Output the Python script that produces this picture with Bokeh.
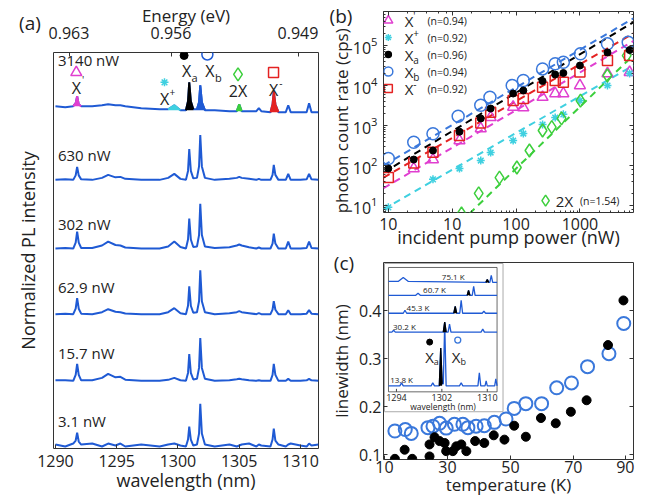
from bokeh.plotting import figure
from bokeh.layouts import row, column
from bokeh.models import (Range1d, LinearAxis, LogAxis, FixedTicker, Div,
                          CustomJSTickFormatter)
from bokeh.core.properties import value
from bokeh.embed import file_html
from bokeh.resources import INLINE

FONT = "Open Sans"
SPEC_BLUE = "#1f5ad4"
MAGENTA = "#e03fd0"
CYAN = "#3fd0e0"
GREEN = "#3ccf3c"
RED = "#e42222"
BLUE_B = "#3a78db"
TXT = "#222222"

# ------------------------------------------------------------------ (a) data
wavelength_a = [1290.0, 1290.8, 1291.45, 1291.65, 1291.77, 1291.9, 1292.1, 1293.0,
                1293.8, 1294.3, 1294.9, 1295.3, 1295.7, 1297.0, 1298.5, 1299.2,
                1299.7, 1300.2, 1300.65, 1300.82, 1300.92, 1301.05, 1301.25, 1301.55,
                1301.72, 1301.82, 1301.95, 1302.2, 1303.0, 1304.2, 1304.8, 1305.0,
                1305.2, 1305.8, 1306.4, 1306.6, 1306.8, 1307.55, 1307.72, 1307.82,
                1307.95, 1308.2, 1308.8, 1309.0, 1309.2, 1310.0, 1310.5, 1310.7,
                1310.9, 1311.47]
power_labels = ["3140 nW", "630 nW", "302 nW", "62.9 nW", "15.7 nW", "3.1 nW"]
trace_offsets = [340, 270, 201, 135, 68, 3]
power_label_y = [390, 295, 226, 162, 96, 28]
spec_3140 = [4, 3, 4, 7, 14, 6, 4, 4, 5, 6, 5, 5, 4, 2, 1, 1, 5, 0, 0, 9, 28, 9, 1, 1, 8, 25, 8, 0, 0,
             -1, -1, 6, -1, -1, -1, 2, -1, -2, 6, 19, 6, -2, -2, 5, -2, -2, -2, 7, -2, -2]
spec_630 = [0, 0.5, 0, 4.5, 13, 4.5, 0.5, 0, 2, 5, 2.5, 3, 1, 0, 0, 2, 6, 1, 0, 9, 31, 9, 1.5, 2,
            13.5, 45, 13.5, 2, 0, 1, 2, 3, 2, 1, 0, 1, 0, 0, 5, 15, 5, 0, 0, 6, 0, 0, 0.5, 6, 0.5, 0]
spec_302 = [0, 0.5, 0, 6, 17, 6, 0.5, 0.5, 3, 7, 3.5, 3, 1, 0, 0, 2, 7, 1.5, 0, 9, 30, 9, 1.5, 2,
            13.5, 45, 13.5, 2, 0.5, 1.2, 3, 4, 3, 1.2, 0, 1, 0, 0, 5, 15, 5, 0, 0, 7, 0, 0, 0.5, 7, 0.5, 0]
spec_62_9 = [0, 0.5, 0, 5.5, 16, 5.5, 0.5, 0, 2, 5, 2.5, 2, 0.6, 0, 0, 2, 6, 1, 0, 8.5, 28, 8.5, 1.4, 2,
             13, 44, 13, 2, 0, 1, 2, 3, 2, 1, 0, 1, 0, 0, 4.5, 13, 4.5, 0, 0, 4, 0, 0, 0.5, 4, 0.5, 0]
spec_15_7 = [0.5, 0.5, 0, 6, 17, 6, 0.5, 0.5, 3, 7, 3.5, 4, 1.2, 0, 0, 1, 3, 0.6, 0, 8, 27, 8, 1.4, 2,
             13, 43, 13, 2, 0, 0.6, 1.5, 2, 1.5, 0.6, 0, 0.5, 0, 0, 6, 17, 6, 0, 0, 2, 0, 0, 0.5, 2, 0.5, 0]
spec_3_1 = [1, -1, 2, 5, 13, 4, 1, 2, -1, 2, 0, 2, -1, 1, -1, 1, 2, 0, -1, 6, 19, 6, 0, 1,
            12, 42, 12, 1, -1, 1, -1, 0, 1, 2, -1, 1, 0, -1, 6, 17, 5, 1, -1, 1, 2, 0, -1, 2, 0, 1]
spectra_a = [spec_3140, spec_630, spec_302, spec_62_9, spec_15_7, spec_3_1]
energy_labels = ["0.963", "0.956", "0.949"]
energy_label_wavelength = [1291.15, 1299.47, 1309.84]   # where the printed energy ticks sit
wavelength_ticks = [1290, 1295, 1300, 1305, 1310]
# coloured peaks of the 3140 nW trace: (first index, last index, colour)
peak_bands = [(2, 6, MAGENTA), (15, 17, CYAN), (18, 22, "black"), (23, 27, SPEC_BLUE),
              (30, 32, GREEN), (37, 41, RED)]

# ------------------------------------------------------------------ (b) data
power_Xb = [1.0, 2.5, 5.0, 12.4, 28, 39, 87, 130, 260, 410, 550, 1020, 2700, 5700]
rate_Xb = [150, 380, 620, 1700, 3200, 5100, 10000, 13300, 26000, 35000, 38000, 62000, 110000, 120000]
power_Xa = [1.0, 2.5, 5.0, 13, 28, 40, 90, 130, 260, 410, 550, 1000, 2700, 6000]
rate_Xa = [84, 141, 237, 700, 1500, 2660, 6300, 7500, 12900, 18800, 20500, 31600, 67000, 77000]
power_Xm = [1.0, 2.5, 5.0, 13, 28, 40, 90, 130, 260, 410, 550, 1000, 2700, 6000]
rate_Xm = [50, 115, 215, 560, 1150, 2150, 4200, 4700, 9100, 13300, 12100, 21600, 42000, 56000]
power_Xp = [2.5, 5.0, 13, 28, 40, 90, 130, 260, 410, 550, 1000, 2700, 6000]
rate_Xp = [84, 141, 420, 840, 1600, 2900, 2800, 5100, 6300, 6300, 10000, 20000, 21500]
power_Xplus = [1.0, 5.0, 13, 28, 40, 90, 130, 260, 410, 550, 1000, 2700, 6000]
rate_Xplus = [9, 45, 84, 133, 211, 420, 630, 1060, 1580, 1900, 4200, 10000, 20000]
power_2X = [14, 26, 55, 103, 162, 260, 362, 515, 1020, 2690, 5400]
rate_2X = [6.3, 20, 50, 89, 237, 750, 910, 1500, 4200, 17800, 56000]
fit_power = [0.84, 6900]
fit_Xb = [100, 480000]
fit_Xa = [67, 384000]
fit_Xm = [50, 200000]
fit_Xp = [27, 130000]
fit_Xplus = [8, 32000]
fit_2X_power = [10, 6900]
fit_2X = [2.4, 57700]
n_values = ["(n=0.94)", "(n=0.92)", "(n=0.96)", "(n=0.94)", "(n=0.92)"]

# ------------------------------------------------------------------ (c) data
temp_Xa = [13.3, 16.4, 18.8, 24.3, 24.3, 25.9, 27.5, 29.1, 29.6, 31.7, 32.8, 34.4, 36.0,
           38.8, 41.7, 44.7, 48.1, 51.2, 54.9, 59.7, 64.4, 69.2, 74.2, 81.0, 85.9]
lw_Xa = [0.091, 0.110, 0.091, 0.096, 0.121, 0.136, 0.128, 0.124, 0.107, 0.107, 0.117, 0.121, 0.107,
         0.128, 0.124, 0.140, 0.131, 0.160, 0.137, 0.176, 0.165, 0.189, 0.213, 0.328, 0.421]
temp_Xb = [13.3, 16.6, 18.5, 23.8, 25.4, 27.5, 29.6, 32.2, 34.9, 36.5, 39.1, 41.7, 44.9,
           48.6, 51.2, 54.9, 59.9, 64.7, 69.4, 74.5, 81.3, 86.0]
lw_Xb = [0.149, 0.152, 0.144, 0.156, 0.159, 0.165, 0.155, 0.163, 0.163, 0.156, 0.159, 0.160, 0.167,
         0.174, 0.196, 0.206, 0.206, 0.239, 0.249, 0.283, 0.310, 0.373]
temp_ticks = [10, 30, 50, 70, 86.5]
lw_ticks = [0.1, 0.2, 0.3, 0.4]

# inset spectra (temperature series)
inset_labels = ["13.8 K", "30.2 K", "45.3 K", "60.7 K", "75.1 K"]
inset_offsets = [74, 128, 147, 165, 178]
inset_label_wl = [1294.9, 1295.4, 1297.8, 1300.7, 1304.0]
inset_wl_13_8 = [1292.6, 1294.6, 1294.9, 1295.2, 1300.1, 1300.4, 1300.7, 1301.55, 1301.8, 1302.05,
                 1302.25, 1302.5, 1302.75, 1305.1, 1305.4, 1305.7, 1308.35, 1308.6, 1308.85,
                 1309.6, 1309.8, 1310.0, 1311.3, 1311.5, 1311.72]
inset_I_13_8 = [0, 0, 3, 0, 0, 3, 0, 0, 38, 2, 2, 63, 0, 0, 3, 0, 0, 13, 0, 0, 5, 0, 0, 7, 0]
inset_wl_30_2 = [1292.6, 1293.2, 1293.5, 1293.8, 1302.25, 1302.5, 1302.75, 1303.1, 1303.35, 1303.6,
                 1308.9, 1309.2, 1309.5, 1311.72]
inset_I_30_2 = [0, 0, 2, 0, 0, 10, 0, 0, 8, 0, 0, 3, 0, 0]
inset_wl_45_3 = [1292.6, 1295.2, 1295.5, 1295.8, 1304.1, 1304.35, 1304.6, 1305.15, 1305.4, 1305.65,
                 1309.1, 1309.4, 1309.7, 1311.72]
inset_I_45_3 = [0, 0, 3, 0, 0, 7, 0, 0, 13, 0, 0, 2, 0, 0]
inset_wl_60_7 = [1292.6, 1297.4, 1297.8, 1298.2, 1306.45, 1306.7, 1306.95, 1307.35, 1307.6, 1307.85, 1311.72]
inset_I_60_7 = [0, 0, 2, 0, 0, 5, 0, 0, 9, 0, 0]
inset_wl_75_1 = [1292.6, 1294.3, 1295.2, 1296.1, 1309.75, 1310.0, 1310.25, 1310.45, 1310.7, 1310.95, 1311.72]
inset_I_75_1 = [1, 1, 5, 1, 0, 3, 0, 0, 7, 0, 0]
inset_wl = [inset_wl_13_8, inset_wl_30_2, inset_wl_45_3, inset_wl_60_7, inset_wl_75_1]
inset_I = [inset_I_13_8, inset_I_30_2, inset_I_45_3, inset_I_60_7, inset_I_75_1]
inset_Xa_index = [8, 5, 5, 5, 5]
inset_ticks = [1294, 1302, 1310]

BLANK = "return '';"
NBSP = "\u00a0"

# geometry of panel (a) frame in page pixels (used to place the html tick texts)
A_LEFT, A_RIGHT = 53, 318
A_X0, A_X1 = 1289.84, 1311.47


def style_axis(ax, tick_size="16px", label_size="18px"):
    ax.major_label_text_font = FONT
    ax.major_label_text_font_size = tick_size
    ax.major_label_text_color = TXT
    ax.axis_label_text_font = FONT
    ax.axis_label_text_font_size = label_size
    ax.axis_label_text_font_style = "normal"
    ax.axis_label_text_color = TXT
    ax.axis_line_color = None
    ax.major_tick_in = 4
    ax.major_tick_out = 0
    ax.minor_tick_in = 2
    ax.minor_tick_out = 0
    ax.major_tick_line_color = "#333333"
    ax.minor_tick_line_color = "#333333"


def blank_axis(ax):
    style_axis(ax)
    ax.formatter = CustomJSTickFormatter(code=BLANK)
    ax.major_label_text_font_size = "1px"
    ax.major_label_standoff = 0


def txt(p, x, y, s, size, color=TXT, align="center", baseline="middle", **kw):
    p.text(x=[x], y=[y], text=[s], text_font=value(FONT), text_font_size=value(size),
           text_color=color, text_align=align, text_baseline=baseline, **kw)


def html_text(s, cx, top, size="19px", width=44, line="22px"):
    return Div(text=s, margin=0, width=width,
               styles={"position": "absolute", "left": f"{cx - width / 2:.1f}px", "top": f"{top}px",
                       "width": f"{width}px", "text-align": "center",
                       "font-family": FONT, "font-size": size, "line-height": line,
                       "color": TXT, "z-index": "10"})


def base_fig(**kw):
    p = figure(output_backend="svg", toolbar_location=None, **kw)
    p.xgrid.visible = False
    p.ygrid.visible = False
    p.outline_line_color = "#333333"
    p.background_fill_color = "white"
    p.border_fill_color = "white"
    return p


# ================================================================== panel (a)
pa = base_fig(width=326, height=498, x_range=Range1d(A_X0, A_X1), y_range=Range1d(0, 398),
              min_border_left=A_LEFT, min_border_right=326 - A_RIGHT, min_border_top=50, min_border_bottom=50)
bottom_a = pa.below[0]
left_a = pa.left[0]
top_axis = LinearAxis(ticker=FixedTicker(ticks=energy_label_wavelength), axis_label="Energy (eV)")
pa.add_layout(top_axis, "above")
blank_axis(top_axis)
top_axis.axis_label_text_font_size = "17px"
top_axis.axis_label_standoff = 26
style_axis(bottom_a)
bottom_a.ticker = FixedTicker(ticks=wavelength_ticks)
bottom_a.axis_label = "wavelength (nm)"
bottom_a.major_label_standoff = 6
bottom_a.axis_label_standoff = -2
style_axis(left_a)
left_a.axis_label = "Normalized PL intensity"
left_a.ticker = FixedTicker(ticks=[])
left_a.formatter = CustomJSTickFormatter(code=BLANK)
left_a.axis_label_standoff = 14

for spec, off in zip(spectra_a, trace_offsets):
    pa.line(wavelength_a, [off + v for v in spec], color=SPEC_BLUE, line_width=2)
off0 = trace_offsets[0]
for i0, i1, col in peak_bands:
    xs = wavelength_a[i0:i1 + 1]
    ys = [off0 + v for v in spec_3140[i0:i1 + 1]]
    base = off0 + min(spec_3140[i0], spec_3140[i1])
    pa.varea(x=xs, y1=[base] * len(xs), y2=ys, fill_color=col)
    pa.line(xs, ys, color=col, line_width=2)

for lab, ly in zip(power_labels, power_label_y):
    txt(pa, 1290.2, ly, lab, "15px", align="left")

# peak identifiers
pa.scatter([1291.7], [378], marker="triangle", size=11, fill_color=None, line_color=MAGENTA, line_width=1.5)
txt(pa, 1291.7, 362, "X", "16px")
txt(pa, 1292.25, 370, "'", "10px")
pa.scatter([1298.9], [368], marker="asterisk", size=8, line_color=CYAN, line_width=1.5)
txt(pa, 1298.9, 351, "X", "16px")
txt(pa, 1299.55, 358, "+", "10px")
pa.scatter([1300.5], [395], marker="circle", size=8, fill_color="black", line_color="black")
txt(pa, 1300.7, 379, "X", "16px")
txt(pa, 1301.35, 373, "a", "11px")
pa.scatter([1302.4], [396], marker="circle", size=11, fill_color=None, line_color=SPEC_BLUE, line_width=1.5)
txt(pa, 1302.6, 379, "X", "16px")
txt(pa, 1303.3, 373, "b", "11px")
pa.scatter([1304.9], [376], marker="diamond", size=13, fill_color=None, line_color=GREEN, line_width=1.5)
txt(pa, 1304.9, 359, "2X", "16px")
pa.scatter([1307.8], [378], marker="square", size=10, fill_color=None, line_color=RED, line_width=1.5)
txt(pa, 1307.8, 360, "X", "16px")
txt(pa, 1308.4, 367, "-", "10px")

# energy tick texts, placed over the wavelength positions of the top ticks
energy_divs = []
for lab, wl in zip(energy_labels, energy_label_wavelength):
    cx = A_LEFT + (wl - A_X0) / (A_X1 - A_X0) * (A_RIGHT - A_LEFT)
    energy_divs.append(html_text(lab, cx, 23, size="16px", width=50, line="20px"))

# ================================================================== panel (b)
pb = base_fig(width=326, height=254, x_axis_type="log", y_axis_type="log",
              x_range=Range1d(0.84, 6900), y_range=Range1d(10 ** 0.825, 10 ** 5.85),
              min_border_left=54, min_border_right=10, min_border_top=11, min_border_bottom=42)
bottom_b = pb.below[0]
left_b = pb.left[0]
style_axis(bottom_b)
bottom_b.formatter = CustomJSTickFormatter(code="return tick < 5 ? '10' : tick.toFixed(0);")
bottom_b.axis_label = "incident pump power (nW)"
bottom_b.major_label_standoff = 5
bottom_b.axis_label_standoff = -8
style_axis(left_b, label_size="17px")
left_b.axis_label = "photon count rate (cps)" + NBSP * 4
left_b.major_label_standoff = 6
left_b.axis_label_standoff = -3
for loc in ("above", "right"):
    ax = LogAxis()
    blank_axis(ax)
    pb.add_layout(ax, loc)

pb.line(fit_power, fit_Xb, color=BLUE_B, line_width=2, line_dash="7 5")
pb.line(fit_power, fit_Xa, color="black", line_width=2, line_dash="7 5")
pb.line(fit_power, fit_Xm, color=RED, line_width=2, line_dash="7 5")
pb.line(fit_power, fit_Xp, color=MAGENTA, line_width=2, line_dash="7 5")
pb.line(fit_power, fit_Xplus, color=CYAN, line_width=2, line_dash="7 5")
pb.line(fit_2X_power, fit_2X, color=GREEN, line_width=2, line_dash="7 5")

pb.scatter(power_Xp, rate_Xp, marker="triangle", size=11, fill_color=None, line_color=MAGENTA, line_width=1.5)
pb.scatter(power_Xplus, rate_Xplus, marker="asterisk", size=8, line_color=CYAN, line_width=1.5)
pb.scatter(power_2X, rate_2X, marker="diamond", size=13, fill_color=None, line_color=GREEN, line_width=1.5)
pb.scatter(power_Xm, rate_Xm, marker="square", size=10, fill_color=None, line_color=RED, line_width=1.5)
pb.scatter(power_Xb, rate_Xb, marker="circle", size=12, fill_color=None, line_color=BLUE_B, line_width=1.5)
pb.scatter(power_Xa, rate_Xa, marker="circle", size=7, fill_color="black", line_color="black")

# legend
leg_y = [10 ** 5.625, 10 ** 5.2, 10 ** 4.775, 10 ** 4.35, 10 ** 3.925]
leg_markers = [("triangle", MAGENTA, None, 9), ("asterisk", CYAN, None, 7), ("circle", "black", "black", 6),
               ("circle", BLUE_B, None, 9), ("square", RED, None, 8)]
leg_mod = [("'", 1.26), ("+", 1.3), ("a", 0.74), ("b", 0.74), ("-", 1.3)]
for yy, (mk, lc, fc, sz), (m, f), nt in zip(leg_y, leg_markers, leg_mod, n_values):
    pb.scatter([1.0], [yy], marker=mk, size=sz, fill_color=fc, line_color=lc, line_width=1.5)
    txt(pb, 1.8, yy, "X", "15px", align="left")
    txt(pb, 2.45, yy * f, m, "10px", align="left")
    txt(pb, 4.1, yy, nt, "10.5px", align="left")
pb.scatter([290], [13.3], marker="diamond", size=11, fill_color=None, line_color=GREEN, line_width=1.5)
txt(pb, 420, 13.3, "2X", "15px", align="left")
txt(pb, 1000, 13.3, "(n=1.54)", "10.5px", align="left")

# ================================================================== panel (c)
pc = base_fig(width=326, height=244, x_range=Range1d(9.68, 89.1), y_range=Range1d(0.0896, 0.5),
              min_border_left=56, min_border_right=19, min_border_top=8, min_border_bottom=38)
bottom_c = pc.below[0]
left_c = pc.left[0]
pc.extra_x_ranges = {"inx": Range1d(1291.72, 1335.75)}
pc.extra_y_ranges = {"iny": Range1d(0, 198)}
style_axis(bottom_c, tick_size="16px", label_size="17px")
bottom_c.ticker = FixedTicker(ticks=temp_ticks)
bottom_c.formatter = CustomJSTickFormatter(code="return tick > 80 ? '90' : tick.toFixed(0);")
bottom_c.axis_label = "temperature (K)"
bottom_c.major_label_standoff = 1
bottom_c.axis_label_standoff = -3
style_axis(left_c, tick_size="16px", label_size="17px")
left_c.ticker = FixedTicker(ticks=lw_ticks)
left_c.axis_label = "linewidth (nm)"
left_c.major_label_standoff = 2
left_c.axis_label_standoff = 3
right_c = LinearAxis(ticker=FixedTicker(ticks=lw_ticks))
blank_axis(right_c)
pc.add_layout(right_c, "right")

# inset
R = dict(x_range_name="inx", y_range_name="iny")
pc.quad(left=[1291.89], right=[1312.77], bottom=[48], top=[197], fill_color="white",
        line_color="#aaaaaa", line_width=1, **R)
pc.quad(left=[1292.6], right=[1311.72], bottom=[68], top=[193], fill_color=None,
        line_color="#444444", line_width=0.8, **R)
for wl, I, off, xi in zip(inset_wl, inset_I, inset_offsets, inset_Xa_index):
    pc.line(wl, [off + v for v in I], color=SPEC_BLUE, line_width=1.3, **R)
    xs = wl[xi - 1:xi + 2]
    ys = [off + v for v in I[xi - 1:xi + 2]]
    pc.varea(x=xs, y1=[off] * 3, y2=ys, fill_color="black", **R)
    pc.line(xs, ys, color="black", line_width=1.3, **R)
for lab, off, lx in zip(inset_labels, inset_offsets, inset_label_wl):
    txt(pc, lx, off + 6, lab, "8px", **R)
pc.segment(x0=inset_ticks, y0=[68] * 3, x1=inset_ticks, y1=[71] * 3, line_color="#444444", **R)
for t in inset_ticks:
    txt(pc, t, 62, str(t), "9px", **R)
txt(pc, 1302.2, 53, "wavelength (nm)", "8.5px", **R)
pc.scatter([1299.85], [118], marker="circle", size=6, fill_color="black", line_color="black", **R)
txt(pc, 1299.85, 103, "X", "15px", **R)
txt(pc, 1301.0, 98, "a", "9px", **R)
pc.scatter([1304.8], [120], marker="circle", size=6, fill_color=None, line_color=BLUE_B, line_width=1.3, **R)
txt(pc, 1304.5, 103, "X", "15px", **R)
txt(pc, 1305.75, 98, "b", "9px", **R)

pc.scatter(temp_Xb, lw_Xb, marker="circle", size=13, fill_color=None, line_color=BLUE_B, line_width=2)
pc.scatter(temp_Xa, lw_Xa, marker="circle", size=9, fill_color="black", line_color="black")

label_a = html_text("(a)", 30, 12, width=40)
label_b = html_text("(b)", 341, 5, width=40)
label_c = html_text("(c)", 344, 252, width=40)

layout = row(pa, column(pb, pc), label_a, label_b, label_c, *energy_divs)
open("out.html", "w").write(file_html(layout, INLINE))
